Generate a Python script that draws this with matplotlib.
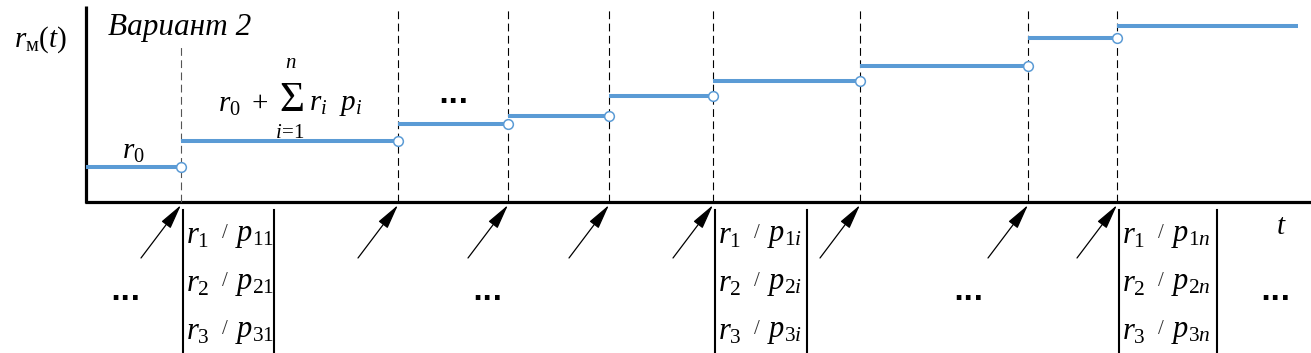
import matplotlib
matplotlib.use("Agg")
import matplotlib.pyplot as plt

# ========================
# DATA (pixel-like units, y measured up from the t axis)
# ========================
T_START = 86
T_END = 1298
step_times = [181, 398, 508, 609, 713, 860, 1028, 1117]
levels = [35, 61, 78, 86, 106, 121, 136, 164, 176]
box_steps = [181, 713, 1117]
box_index = ['1', 'i', 'n']
box_right = [274, 807, 1217]
dots_bottom_x = [125, 487, 968, 1275]

BLUE = '#5B9BD5'

plt.rcParams['font.family'] = ['Liberation Serif', 'DejaVu Serif']
plt.rcParams['mathtext.fontset'] = 'custom'
plt.rcParams['mathtext.rm'] = 'Liberation Serif'
plt.rcParams['mathtext.it'] = 'Liberation Serif:italic'

fig = plt.figure(figsize=(13.11, 3.53), dpi=100)
ax = fig.add_axes([0, 0, 1, 1])
ax.set_xlim(0, 1311)
ax.set_ylim(-151, 202)
ax.axis('off')

# axes lines
ax.plot([T_START, T_START], [-1, 196], color='black', lw=2.3, solid_capstyle='butt')
ax.plot([T_START - 1, 1311], [0, 0], color='black', lw=2.3, solid_capstyle='butt')

# dashed verticals
ax.vlines(step_times[0], 0, 155, colors='#555555', lw=0.8, linestyles=(0, (7, 4)))
ax.vlines(step_times[1:], 0, 195, colors='black', lw=0.8, linestyles=(0, (7, 4)))

# steps
starts = [T_START] + step_times
ends = step_times + [T_END]
for s, e, lv in zip(starts, ends, levels):
    ax.plot([s, e], [lv, lv], color=BLUE, lw=2.9, solid_capstyle='butt', zorder=3)
ax.plot(step_times, levels[:-1], 'o', ms=7, mfc='white', mec=BLUE, mew=1.1, zorder=4)

# arrows under the axis
for s in step_times:
    ax.annotate('', xy=(s, -3), xytext=(s - 40, -56),
                arrowprops=dict(arrowstyle='-|>,head_length=1.1,head_width=0.25',
                                color='black', lw=0.9, shrinkA=0, shrinkB=0,
                                mutation_scale=14))

# boxes with r/p
row_y = [-34, -82, -130]
for s, idx, xr in zip(box_steps, box_index, box_right):
    ax.plot([s + 2, s + 2], [-8, -151], color='black', lw=1.5)
    ax.plot([xr, xr], [-8, -151], color='black', lw=1.5)
    for k, y in enumerate(row_y):
        ax.text(s + 5, y, r'$r_{%d}$' % (k + 1), fontsize=22, ha='left', va='center')
        ax.text(s + 44, y + 2, '/', fontsize=15, color='#333333', ha='center', va='center')
        ax.text(s + 54, y, r'$p_{%d%s}$' % (k + 1, idx), fontsize=22, ha='left', va='center')

# ellipses
for x in dots_bottom_x:
    ax.text(x, -91, '...', fontsize=19, fontweight='bold', family=['DejaVu Sans'],
            ha='center', va='center')
ax.text(453, 106, '...', fontsize=19, fontweight='bold', family=['DejaVu Sans'],
        ha='center', va='center')

# labels
ax.text(14, 162, r'$r_{\mathrm{м}}(t)$', fontsize=21, ha='left', va='center')
ax.text(108, 174, 'Вариант 2', fontsize=22.5, style='italic', ha='left', va='center')
ax.text(133, 50, r'$r_0$', fontsize=21, ha='center', va='center')
ax.text(1281, -25, r'$t$', fontsize=21, ha='center', va='center')

# formula r0 + sum r_i p_i
ax.text(218, 97, r'$r_0\ +$', fontsize=21, ha='left', va='center')
ax.text(292, 101, 'Σ', fontsize=31, ha='center', va='center')
ax.text(291, 138, r'$n$', fontsize=15, ha='center', va='center')
ax.text(290, 69, r'$i\!=\!1$', fontsize=15, ha='center', va='center')
ax.text(309, 97, r'$r_i\ \ p_i$', fontsize=21, ha='left', va='center')

fig.savefig('out.png', dpi=100)
